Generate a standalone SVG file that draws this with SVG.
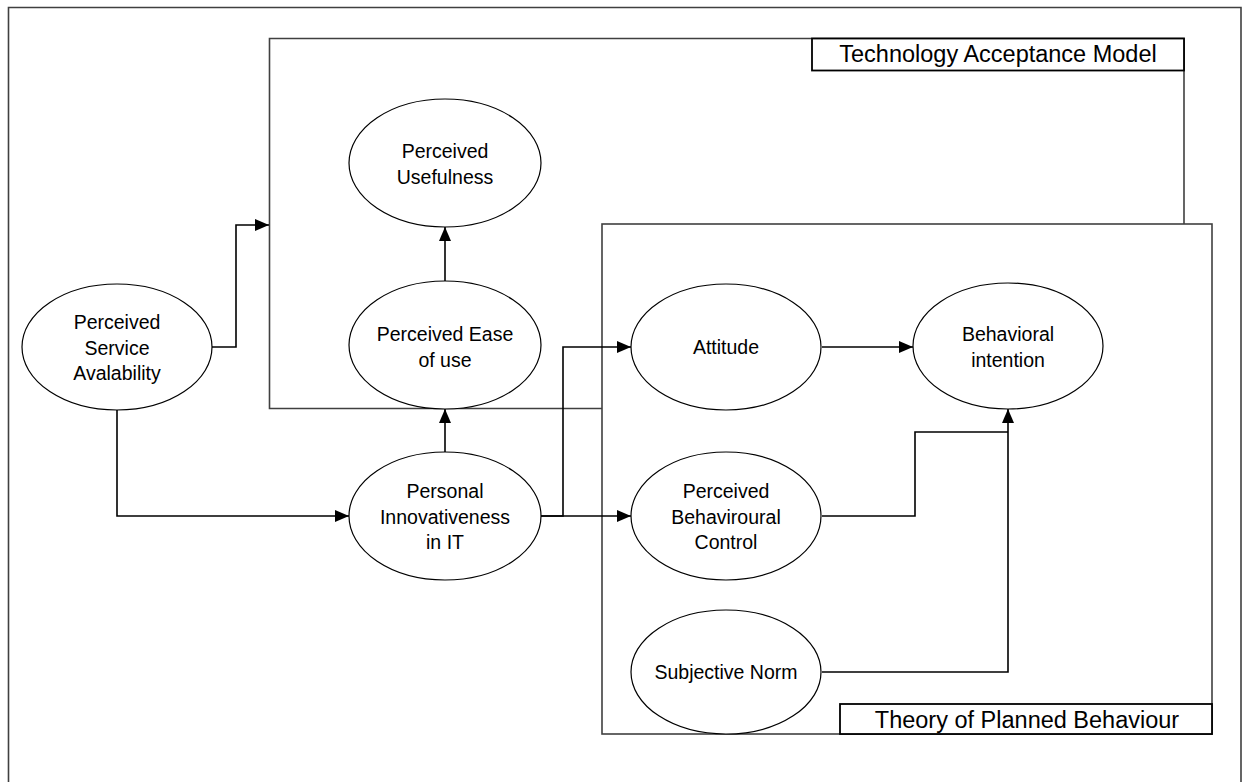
<svg xmlns="http://www.w3.org/2000/svg" width="1249" height="782" viewBox="0 0 1249 782">
  <style>
    .frame { fill: none; stroke: #404040; stroke-width: 1.6; }
    .title-box { fill: #ffffff; stroke: #000000; stroke-width: 1.8; }
    .node ellipse { fill: #ffffff; stroke: #000000; stroke-width: 1.2; }
    .lbl { font-family: "Liberation Sans", Arial, sans-serif; font-size: 19.5px; fill: #000000; text-anchor: middle; }
    .title { font-family: "Liberation Sans", Arial, sans-serif; font-size: 23.5px; fill: #000000; text-anchor: middle; }
    .conn path { fill: none; stroke: #000000; stroke-width: 1.6; }
  </style>
  <defs>
    <marker id="arrow" viewBox="0 0 14 12" refX="14" refY="6" markerWidth="14" markerHeight="12" markerUnits="userSpaceOnUse" orient="auto">
      <path d="M0,0 L14,6 L0,12 Z" fill="#000000"/>
    </marker>
  </defs>

  <rect width="1249" height="782" fill="#ffffff"/>

  <!-- page frame -->
  <path class="frame" d="M8.5,790 V7.5 H1241 V790"/>

  <!-- Technology Acceptance Model boundary -->
  <g id="tam-box">
    <path class="frame" d="M602,408.5 H269.5 V38.5 H1184 V224"/>
    <rect class="title-box" x="812" y="38.5" width="372" height="32"/>
    <text class="title" x="998" y="62">Technology Acceptance Model</text>
  </g>

  <!-- Theory of Planned Behaviour boundary -->
  <g id="tpb-box">
    <rect class="frame" x="602" y="224" width="610" height="510"/>
    <rect class="title-box" x="840" y="704" width="372" height="30"/>
    <text class="title" x="1027" y="728">Theory of Planned Behaviour</text>
  </g>

  <!-- connectors -->
  <g id="connectors" class="conn">
    <path d="M212,347 H236 V225 H269" marker-end="url(#arrow)"/>
    <path d="M117,410 V516 H349" marker-end="url(#arrow)"/>
    <path d="M445,452 V409" marker-end="url(#arrow)"/>
    <path d="M445,281 V227" marker-end="url(#arrow)"/>
    <path d="M541,516 H563 V347 H631" marker-end="url(#arrow)"/>
    <path d="M541,516 H631" marker-end="url(#arrow)"/>
    <path d="M822,347 H913" marker-end="url(#arrow)"/>
    <path d="M822,516 H915 V432 H1008"/>
    <path d="M822,672 H1008 V409" marker-end="url(#arrow)"/>
  </g>

  <!-- nodes -->
  <g id="perceived-usefulness" class="node">
    <ellipse cx="445" cy="163" rx="96" ry="64"/>
    <text class="lbl" x="445" y="158">Perceived</text>
    <text class="lbl" x="445" y="184">Usefulness</text>
  </g>

  <g id="perceived-ease-of-use" class="node">
    <ellipse cx="445" cy="345" rx="96" ry="64"/>
    <text class="lbl" x="445" y="341">Perceived Ease</text>
    <text class="lbl" x="445" y="367">of use</text>
  </g>

  <g id="perceived-service-availability" class="node">
    <ellipse cx="117" cy="347" rx="95" ry="63"/>
    <text class="lbl" x="117" y="329">Perceived</text>
    <text class="lbl" x="117" y="355">Service</text>
    <text class="lbl" x="117" y="380">Avalability</text>
  </g>

  <g id="personal-innovativeness" class="node">
    <ellipse cx="445" cy="516" rx="96" ry="64"/>
    <text class="lbl" x="445" y="498">Personal</text>
    <text class="lbl" x="445" y="524">Innovativeness</text>
    <text class="lbl" x="445" y="549">in IT</text>
  </g>

  <g id="attitude" class="node">
    <ellipse cx="726" cy="347" rx="95" ry="63"/>
    <text class="lbl" x="726" y="354">Attitude</text>
  </g>

  <g id="behavioral-intention" class="node">
    <ellipse cx="1008" cy="346" rx="95" ry="63"/>
    <text class="lbl" x="1008" y="341">Behavioral</text>
    <text class="lbl" x="1008" y="367">intention</text>
  </g>

  <g id="perceived-behavioural-control" class="node">
    <ellipse cx="726" cy="516" rx="95" ry="64"/>
    <text class="lbl" x="726" y="498">Perceived</text>
    <text class="lbl" x="726" y="524">Behaviroural</text>
    <text class="lbl" x="726" y="549">Control</text>
  </g>

  <g id="subjective-norm" class="node">
    <ellipse cx="726" cy="672" rx="95" ry="62"/>
    <text class="lbl" x="726" y="679">Subjective Norm</text>
  </g>
</svg>
